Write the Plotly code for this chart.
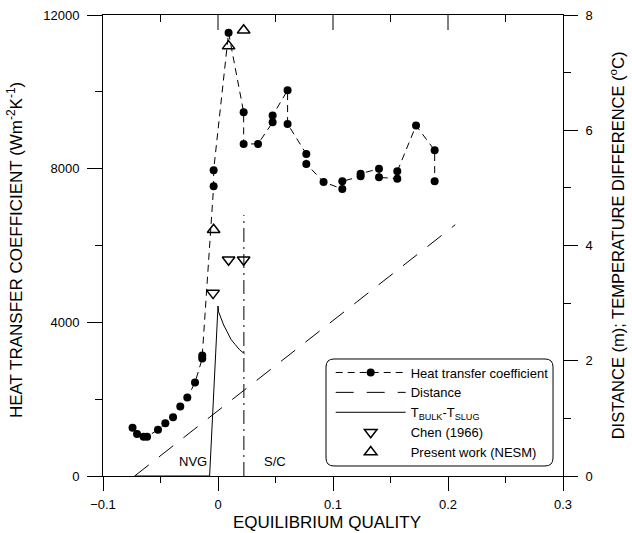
import plotly.graph_objects as go

# ---- data ----
htc_x = [-0.0743, -0.0704, -0.0647, -0.0617, -0.0522, -0.0458, -0.0391, -0.0328, -0.0267, -0.0200,
         -0.0137, -0.0137, -0.0038, -0.0038, 0.0092, 0.0223, 0.0223, 0.0348, 0.0475, 0.0475,
         0.0605, 0.0605, 0.0768, 0.0768, 0.0918, 0.1081, 0.1081, 0.1240, 0.1240, 0.1400,
         0.1400, 0.1559, 0.1559, 0.1722, 0.1884, 0.1884]
htc_y = [1259, 1094, 1024, 1024, 1207, 1373, 1529, 1806, 2041, 2432,
         3057, 3135, 7540, 7956, 11537, 9468, 8644, 8644, 9207, 9382,
         10041, 9165, 8383, 8123, 7654, 7471, 7670, 7800, 7870, 8000,
         7774, 7740, 7930, 9121, 8477, 7670]

dist_x = [-0.0725, 0.2063]
dist_y = [0.0, 4.36]

tdiff_x = [-0.0725, -0.0073, 0.0, 0.0005, 0.0026, 0.0049, 0.0078, 0.0113, 0.0150, 0.0188, 0.0231]
tdiff_y = [0.0, 0.0, 2.95, 2.85, 2.74, 2.62, 2.51, 2.37, 2.28, 2.19, 2.12]

chen_x = [-0.0043, 0.0092, 0.0223]
chen_y = [4761, 5629, 5629]

present_x = [-0.0038, 0.0092, 0.0223]
present_y = [6411, 11190, 11605]

boundary_x = [0.0225, 0.0225]
boundary_y = [0.0, 4.53]

region_labels = ["NVG", "S/C"]
region_label_x = [-0.0221, 0.0492]
region_label_y = [373, 373]

x_range = [-0.1, 0.3]
x_dtick, x_minor_dtick = 0.1, 0.05
x_major_ticks = [0.0, 0.1, 0.2]          # interior top ticks
x_minor_ticks = [-0.05, 0.05, 0.15, 0.25]
y_range = [0, 12000]
y_dtick, y_minor_dtick = 4000, 2000
y2_range = [0, 8]
y2_dtick, y2_minor_dtick = 2, 1

FONT = "Liberation Sans, Arial, sans-serif"
BLACK = "#000000"

W, H = 632, 533
M_L, M_R, M_T, M_B = 103, 69, 15, 57
plot_h = H - M_T - M_B
px_to_y = (y_range[1] - y_range[0]) / plot_h   # data units per pixel on the left axis

fig = go.Figure()

fig.add_trace(go.Scatter(
    x=htc_x, y=htc_y, mode="lines+markers", name="Heat transfer coefficient",
    line=dict(color=BLACK, width=1, dash="7px,5px"),
    marker=dict(symbol="circle", size=8, color=BLACK),
))
fig.add_trace(go.Scatter(
    x=dist_x, y=dist_y, mode="lines", name="Distance", yaxis="y2",
    line=dict(color=BLACK, width=1, dash="18px,13px"),
))
fig.add_trace(go.Scatter(
    x=tdiff_x, y=tdiff_y, mode="lines", name="T<sub>BULK</sub>-T<sub>SLUG</sub>", yaxis="y2",
    line=dict(color=BLACK, width=1),
))
fig.add_trace(go.Scatter(
    x=chen_x, y=chen_y, mode="markers", name="Chen (1966)",
    marker=dict(symbol="triangle-down-open", size=11, color=BLACK, line=dict(width=1.5, color=BLACK)),
))
fig.add_trace(go.Scatter(
    x=present_x, y=present_y, mode="markers", name="Present work (NESM)",
    marker=dict(symbol="triangle-up-open", size=11, color=BLACK, line=dict(width=1.5, color=BLACK)),
))
fig.add_trace(go.Scatter(
    x=boundary_x, y=boundary_y, mode="lines", yaxis="y2", showlegend=False,
    line=dict(color=BLACK, width=1, dash="14px,5px,2px,5px"), hoverinfo="skip",
))

# inward-pointing ticks along the top frame (drawn as one-sided error bars)
for tick_x, tick_len in ((x_major_ticks, 15), (x_minor_ticks, 7)):
    fig.add_trace(go.Scatter(
        x=tick_x, y=[y_range[1]] * len(tick_x), mode="markers", showlegend=False,
        hoverinfo="skip", cliponaxis=False,
        marker=dict(size=1, color="rgba(0,0,0,0)"),
        error_y=dict(type="data", symmetric=False, array=[0] * len(tick_x),
                     arrayminus=[tick_len * px_to_y] * len(tick_x),
                     color=BLACK, thickness=1, width=0),
    ))

for txt, lx, ly in zip(region_labels, region_label_x, region_label_y):
    fig.add_annotation(x=lx, y=ly, text=txt, showarrow=False,
                       font=dict(size=13, color=BLACK, family=FONT))

# axis titles
title_font = dict(size=17, color=BLACK, family=FONT)
fig.add_annotation(text="EQUILIBRIUM QUALITY", xref="paper", yref="paper",
                   x=0.487, y=-0.1, xanchor="center", yanchor="middle",
                   showarrow=False, font=title_font)
fig.add_annotation(text="HEAT TRANSFER COEFFICIENT (Wm<sup>-2</sup>K<sup>-1</sup>)",
                   xref="paper", yref="paper", x=-0.1913, y=0.49, textangle=-90,
                   xanchor="center", yanchor="middle", showarrow=False, font=title_font)
fig.add_annotation(text="DISTANCE (m); TEMPERATURE DIFFERENCE (<sup>o</sup>C)",
                   xref="paper", yref="paper", x=1.117, y=0.5, textangle=-90,
                   xanchor="center", yanchor="middle", showarrow=False,
                   font=dict(size=16.5, color=BLACK, family=FONT))

# rounded legend frame (paper coords)
x0, x1, y0, y1 = 0.4848, 0.9783, 0.0217, 0.2538
rx, ry = 0.0174, 0.0174
path = (f"M {x0+rx},{y1} L {x1-rx},{y1} Q {x1},{y1} {x1},{y1-ry} "
        f"L {x1},{y0+ry} Q {x1},{y0} {x1-rx},{y0} L {x0+rx},{y0} "
        f"Q {x0},{y0} {x0},{y0+ry} L {x0},{y1-ry} Q {x0},{y1} {x0+rx},{y1} Z")
fig.add_shape(type="path", path=path, xref="paper", yref="paper",
              line=dict(color=BLACK, width=1), fillcolor="white", layer="below")

axis_common = dict(showline=True, linecolor=BLACK, linewidth=1, showgrid=False,
                   zeroline=False, tickcolor=BLACK, tickwidth=1, automargin=False,
                   tickfont=dict(size=13, color=BLACK, family=FONT))

fig.update_layout(
    width=W, height=H,
    margin=dict(l=M_L, r=M_R, t=M_T, b=M_B),
    paper_bgcolor="white", plot_bgcolor="white",
    font=dict(family=FONT, color=BLACK),
    showlegend=True,
    legend=dict(x=0.495, y=0.257, xanchor="left", yanchor="top",
                bgcolor="rgba(0,0,0,0)", borderwidth=0,
                font=dict(size=13, color=BLACK, family=FONT),
                itemwidth=70, tracegroupgap=0),
    xaxis=dict(range=x_range, tickmode="linear", tick0=0, dtick=x_dtick, mirror=True,
               ticks="outside", ticklen=14, ticklabelstandoff=2,
               minor=dict(tickmode="linear", tick0=0, dtick=x_minor_dtick, ticks="outside",
                          ticklen=6, tickcolor=BLACK, tickwidth=1),
               **axis_common),
    yaxis=dict(range=y_range, tickmode="linear", tick0=0, dtick=y_dtick, tickformat="d",
               ticks="outside", ticklen=15, ticklabelstandoff=5,
               minor=dict(tickmode="linear", tick0=0, dtick=y_minor_dtick, ticks="outside",
                          ticklen=7, tickcolor=BLACK, tickwidth=1),
               **axis_common),
    yaxis2=dict(range=y2_range, tickmode="linear", tick0=0, dtick=y2_dtick,
                overlaying="y", side="right", anchor="x",
                ticks="outside", ticklen=14, ticklabelstandoff=5,
                minor=dict(tickmode="linear", tick0=0, dtick=y2_minor_dtick, ticks="outside",
                           ticklen=7, tickcolor=BLACK, tickwidth=1),
                **axis_common),
)

fig.write_html("out.html")
